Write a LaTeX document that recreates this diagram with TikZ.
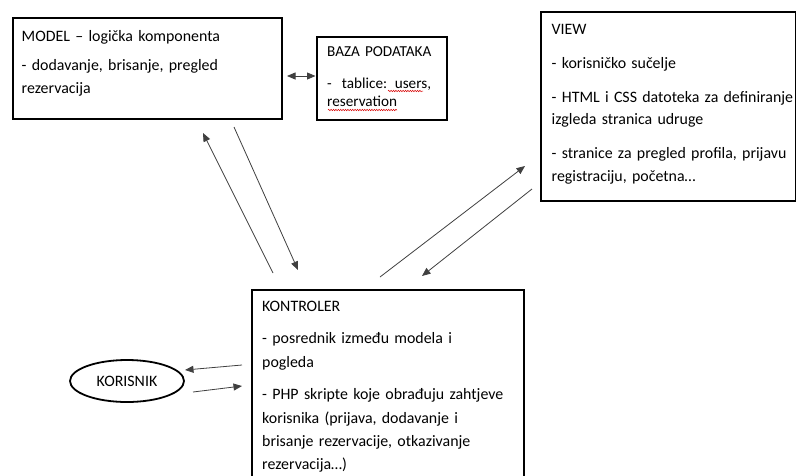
\documentclass[tikz,border=0pt]{standalone}
\usepackage{fontspec}
\setmainfont{Carlito}
\usetikzlibrary{arrows.meta,shapes.geometric,decorations.pathmorphing}
\begin{document}
\begin{tikzpicture}[x=1pt,y=-1pt,
  >={Triangle[length=8.5pt,width=7pt]},
  box/.style={draw,line width=1.5pt,inner sep=0pt,anchor=north west},
  txt/.style={anchor=base west,inner sep=0pt,text width=300pt,align=left},
  conn/.style={draw=black!75,line width=0.8pt},
  squig/.style={draw=red!85!black,line width=0.5pt,decorate,decoration={snake,amplitude=0.7pt,segment length=2.4pt}}]
\useasboundingbox (0,0) rectangle (796,475);
\fill[white] (0,0) rectangle (796,475);
\clip (0,0) rectangle (796,475);

% boxes
\node[box,minimum width=269pt,minimum height=101pt] (model) at (12,17) {};
\node[box,minimum width=130pt,minimum height=83pt] (baza) at (316,36) {};
\node[box,minimum width=254.5pt,minimum height=189pt] (view) at (540,11) {};
\node[box,minimum width=272pt,minimum height=200pt] (kontroler) at (251,289) {};
\node[draw,ellipse,line width=1.8pt,minimum width=114pt,minimum height=42pt,inner sep=0pt,
      font=\fontsize{15.9}{18}\selectfont] (korisnik) at (127,381) {KORISNIK};

% texts
\node[txt,font=\fontsize{15.9}{23}\selectfont] (modeltxt) at (21.5,41)
  {MODEL – logička komponenta\\[6pt]- dodavanje, brisanje, pregled\\rezervacija};
\node[txt,font=\fontsize{15.2}{18}\selectfont] (bazatxt) at (327,56.7)
  {BAZA PODATAKA\\[14pt]-\ \ tablice: users,\\reservation};
\node[txt,font=\fontsize{15.9}{22.5}\selectfont] (viewtxt) at (551.5,34)
  {VIEW\\[11.5pt]- korisničko sučelje\\[11.5pt]- HTML i CSS datoteka za definiranje\\izgleda stranica udruge\\[11.5pt]- stranice za pregled profila, prijavu\\registraciju, početna…};
\node[txt,font=\fontsize{15.9}{23.3}\selectfont] (kontrolertxt) at (262,311)
  {KONTROLER\\[9.5pt]- posrednik između modela i\\pogleda\\[9.5pt]- PHP skripte koje obrađuju zahtjeve\\korisnika (prijava, dodavanje i\\brisanje rezervacije, otkazivanje\\rezervacija…)};

% connector end points
\coordinate (a1s) at (273,273); \coordinate (a1e) at (203,133);
\coordinate (a2s) at (234,127); \coordinate (a2e) at (298,270);
\coordinate (a3s) at (380,277); \coordinate (a3e) at (525,166);
\coordinate (a4s) at (532,189); \coordinate (a4e) at (422,276);
\coordinate (a5s) at (242,365); \coordinate (a5e) at (185,370);
\coordinate (a6s) at (193,392); \coordinate (a6e) at (242,386);
\coordinate (a7s) at (287,76);  \coordinate (a7e) at (315.5,76);

\draw[conn,->] (a1s) -- (a1e);
\draw[conn,->] (a2s) -- (a2e);
\draw[conn,->] (a3s) -- (a3e);
\draw[conn,->] (a4s) -- (a4e);
\draw[conn,->] (a5s) -- (a5e);
\draw[conn,->] (a6s) -- (a6e);
\draw[conn,<->] (a7s) -- (a7e);

% spell-check underlines
\coordinate (sq1a) at (388,91);  \coordinate (sq1b) at (423,91);
\coordinate (sq2a) at (328,110); \coordinate (sq2b) at (397,110);
\draw[squig] (sq1a) -- (sq1b);
\draw[squig] (sq2a) -- (sq2b);
\end{tikzpicture}
\end{document}
